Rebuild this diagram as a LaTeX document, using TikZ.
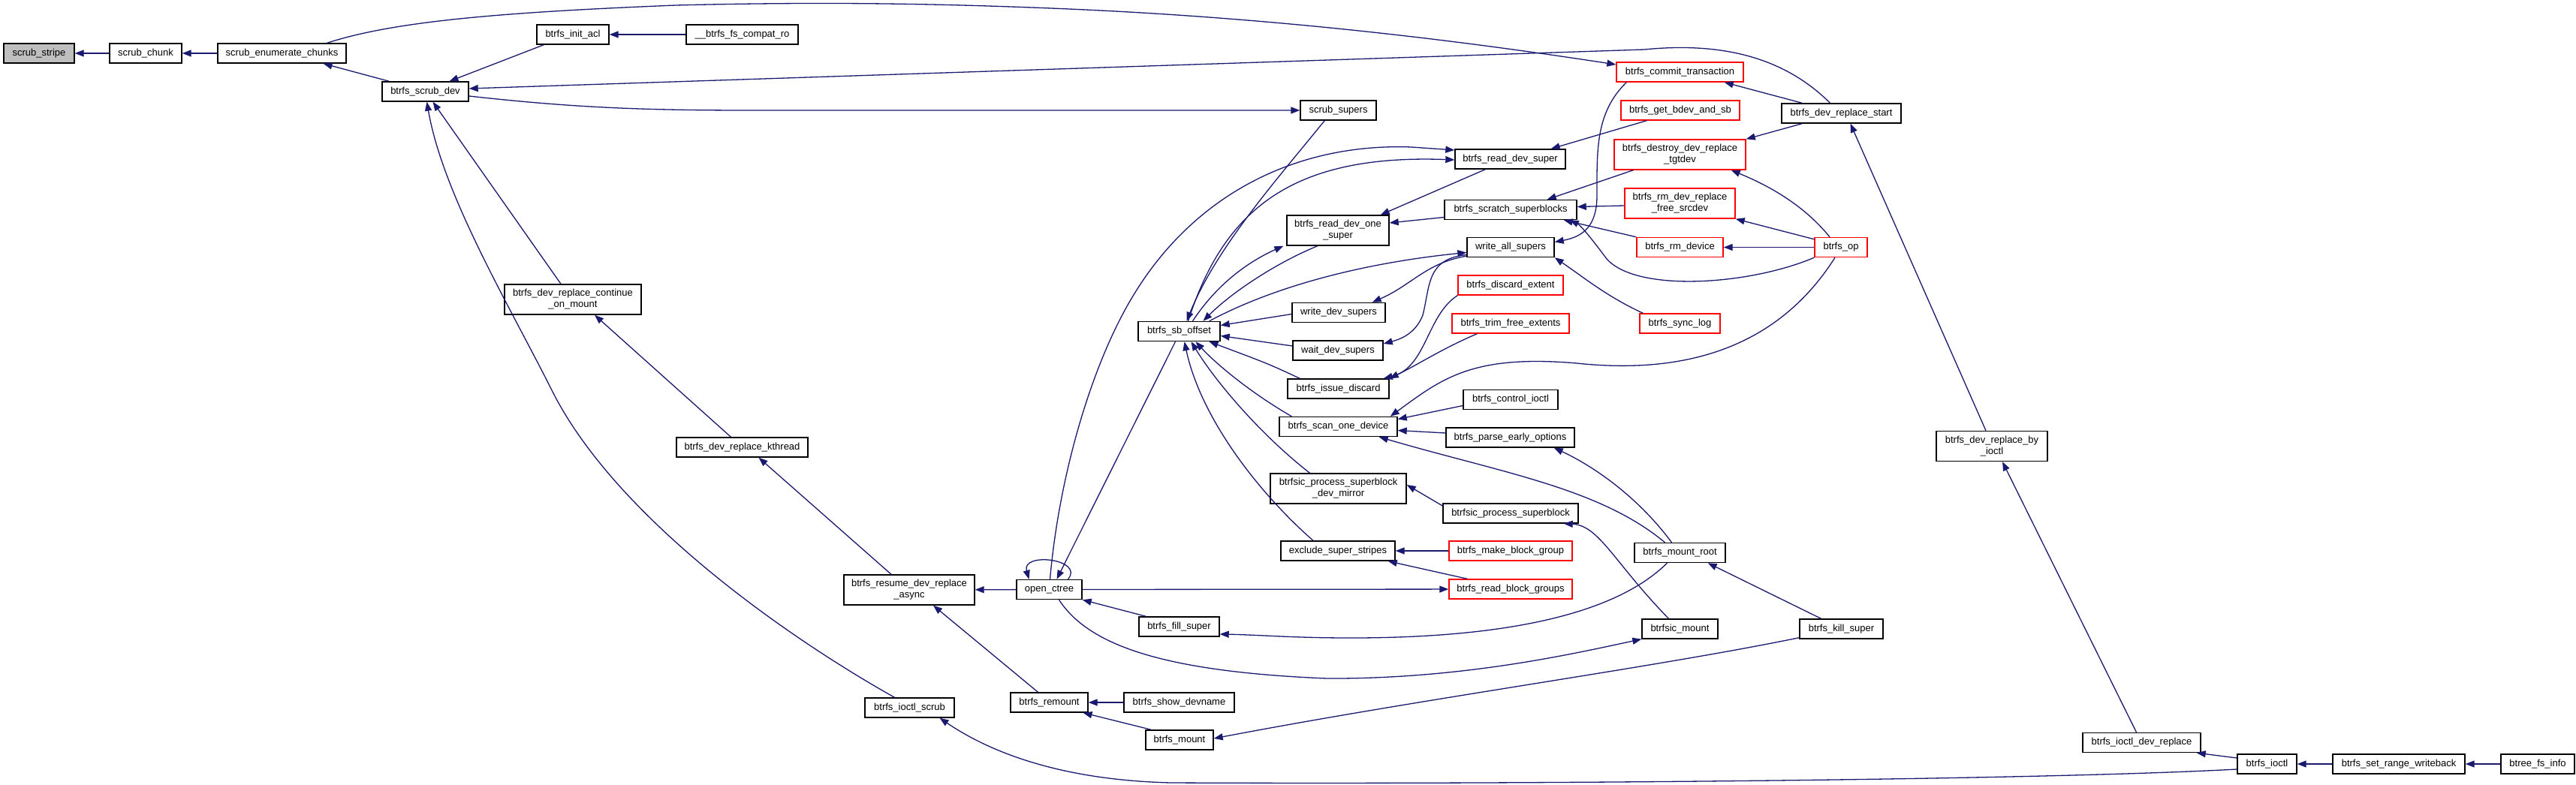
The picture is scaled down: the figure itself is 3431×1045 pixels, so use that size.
\documentclass[tikz,border=0pt]{standalone}
\usepackage{fontspec}
\setmainfont{Liberation Sans}
\usetikzlibrary{arrows.meta,calc}
\definecolor{eb}{HTML}{191970}
\definecolor{rb}{HTML}{FF0000}
\definecolor{gf}{HTML}{BFBFBF}
\begin{document}
\begin{tikzpicture}[x=1pt,y=-1pt,
  nd/.style={draw=black,line width=1.4pt,fill=white,inner sep=0pt,minimum height=26pt,
    font=\fontsize{13pt}{15pt}\selectfont,align=center},
  rd/.style={nd,draw=rb},
  two/.style={minimum height=40pt},
  cedge/.style={draw=eb,line width=1.3pt,-{Triangle[length=12pt,width=9pt]}}]
\useasboundingbox[fill=white] (0,0) rectangle (3431,1045);
% nodes
\node[nd,fill=gf,minimum width=94] (stripe) at (52,71) {scrub\_stripe};
\node[nd,minimum width=96] (chunk) at (194,71) {scrub\_chunk};
\node[nd,minimum width=171] (enumc) at (375.5,71) {scrub\_enumerate\_chunks};
\node[nd,minimum width=115] (scrubdev) at (566.5,122) {btrfs\_scrub\_dev};
\node[nd,minimum width=96] (initacl) at (763,46) {btrfs\_init\_acl};
\node[nd,minimum width=149] (compat) at (988.5,46) {\_\_btrfs\_fs\_compat\_ro};
\node[nd,two,minimum width=182] (contmount) at (763,399) {btrfs\_dev\_replace\_continue\\\_on\_mount};
\node[nd,minimum width=175] (kthread) at (988.5,596) {btrfs\_dev\_replace\_kthread};
\node[nd,two,minimum width=174] (resume) at (1211,786) {btrfs\_resume\_dev\_replace\\\_async};
\node[nd,minimum width=119] (ioctlscrub) at (1211.5,943) {btrfs\_ioctl\_scrub};
\node[nd,minimum width=87] (openctree) at (1397.5,785.5) {open\_ctree};
\node[nd,minimum width=103] (remount) at (1397.5,936) {btrfs\_remount};
\node[nd,minimum width=147] (showdev) at (1570.5,936) {btrfs\_show\_devname};
\node[nd,minimum width=90] (mount) at (1571,986) {btrfs\_mount};
\node[nd,minimum width=101] (scrubsupers) at (1782.5,147) {scrub\_supers};
\node[nd,minimum width=109] (sboffset) at (1570.5,441.5) {btrfs\_sb\_offset};
\node[nd,two,minimum width=136] (readone) at (1782,307) {btrfs\_read\_dev\_one\\\_super};
\node[nd,minimum width=124] (writedev) at (1783,416.5) {write\_dev\_supers};
\node[nd,minimum width=120] (waitdev) at (1782,467) {wait\_dev\_supers};
\node[nd,minimum width=135] (issue) at (1782.5,518) {btrfs\_issue\_discard};
\node[nd,minimum width=157] (scanone) at (1782.5,568.5) {btrfs\_scan\_one\_device};
\node[nd,two,minimum width=181] (devmirror) at (1782.5,651) {btrfsic\_process\_superblock\\\_dev\_mirror};
\node[nd,minimum width=152] (exclude) at (1782,734) {exclude\_super\_stripes};
\node[nd,minimum width=107] (fillsuper) at (1570.5,835) {btrfs\_fill\_super};
\node[nd,minimum width=147] (readsuper) at (2011.5,212) {btrfs\_read\_dev\_super};
\node[nd,minimum width=176] (scratch) at (2012,279.5) {btrfs\_scratch\_superblocks};
\node[nd,minimum width=116] (writeall) at (2012,329.5) {write\_all\_supers};
\node[rd,minimum width=140] (discard) at (2012,380) {btrfs\_discard\_extent};
\node[rd,minimum width=156] (trim) at (2012,431) {btrfs\_trim\_free\_extents};
\node[nd,minimum width=126] (controlioctl) at (2012,532.5) {btrfs\_control\_ioctl};
\node[nd,minimum width=171] (parseearly) at (2011.5,583) {btrfs\_parse\_early\_options};
\node[nd,minimum width=180] (processsb) at (2012,684) {btrfsic\_process\_superblock};
\node[rd,minimum width=164] (makebg) at (2012,734) {btrfs\_make\_block\_group};
\node[rd,minimum width=164] (readbg) at (2012,785) {btrfs\_read\_block\_groups};
\node[rd,minimum width=169] (commit) at (2237.5,96) {btrfs\_commit\_transaction};
\node[rd,minimum width=158] (getbdev) at (2238,147) {btrfs\_get\_bdev\_and\_sb};
\node[rd,two,minimum width=175] (destroy) at (2237.5,206) {btrfs\_destroy\_dev\_replace\\\_tgtdev};
\node[rd,two,minimum width=147] (freesrc) at (2237.5,271) {btrfs\_rm\_dev\_replace\\\_free\_srcdev};
\node[rd,minimum width=115] (rmdevice) at (2237.5,329.5) {btrfs\_rm\_device};
\node[rd,minimum width=107] (synclog) at (2237.5,431) {btrfs\_sync\_log};
\node[nd,minimum width=121] (mountroot) at (2237.5,736.5) {btrfs\_mount\_root};
\node[nd,minimum width=101] (btrfsicmount) at (2237.5,838) {btrfsic\_mount};
\node[nd,minimum width=159] (devreplstart) at (2452.5,151) {btrfs\_dev\_replace\_start};
\node[rd,minimum width=70] (btrfsop) at (2452,329.5) {btrfs\_op};
\node[nd,minimum width=111] (killsuper) at (2452.5,838) {btrfs\_kill\_super};
\node[nd,two,minimum width=148] (byioctl) at (2653,594.5) {btrfs\_dev\_replace\_by\\\_ioctl};
\node[nd,minimum width=157] (ioctldevrepl) at (2852.5,989.5) {btrfs\_ioctl\_dev\_replace};
\node[nd,minimum width=79] (ioctl) at (3019.5,1018) {btrfs\_ioctl};
\node[nd,minimum width=176] (setrange) at (3195,1018) {btrfs\_set\_range\_writeback};
\node[nd,minimum width=98] (btreefs) at (3380,1018) {btree\_fs\_info};
% edges
\draw[cedge] (chunk) -- (stripe);
\draw[cedge] (enumc) -- (chunk);
\draw[cedge] ($(scrubdev.north west)+(10,0)$) -- ($(enumc.south)+(55,0)$);
\draw[cedge] ($(enumc.north)+(60,0)$) .. controls (520,30) and (650,17) .. (900,7) .. controls (1100,2) and (1250,5) .. (1400,11) .. controls (1700,23) and (1950,55) .. ($(commit.west)+(0,-10)$);
\draw[cedge] ($(initacl.south west)+(10,0)$) -- ($(scrubdev.north)+(32,0)$);
\draw[cedge] (compat) -- (initacl);
\draw[cedge] ($(devreplstart.north)+(-15,0)$) .. controls (2380,80) and (2300,55) .. (2190,66) -- ($(scrubdev.east)+(0,-4)$);
\draw[cedge] ($(scrubdev.east)+(0,6)$) .. controls (760,143) and (850,147) .. (1000,147) -- (scrubsupers.west);
\draw[cedge] ($(contmount.north)+(-16,0)$) -- ($(scrubdev.south)+(10,0)$);
\draw[cedge] ($(ioctlscrub.north)+(-20,0)$) .. controls (1050,850) and (820,690) .. (735,520) .. controls (680,410) and (590,260) .. ($(scrubdev.south)+(2,0)$);
\draw[cedge] ($(kthread.north)+(-15,0)$) -- ($(contmount.south)+(29,0)$);
\draw[cedge] ($(resume.north)+(-24,0)$) -- ($(kthread.south)+(22,0)$);
\draw[cedge] (openctree) -- (resume);
\draw[cedge] ($(remount.north)+(-15,0)$) -- ($(resume.south)+(32,0)$);
\draw[cedge] ($(ioctl.west)+(0,7)$) .. controls (2700,1040) and (2000,1045) .. (1560,1043) .. controls (1430,1040) and (1330,1010) .. ($(ioctlscrub.south)+(40,0)$);
\draw[cedge] (showdev) -- (remount);
\draw[cedge] ($(mount.north west)+(8,0)$) -- ($(remount.south)+(45,0)$);
\draw[cedge] ($(killsuper.south west)+(0,-2)$) .. controls (2200,890) and (1900,930) .. ($(mount.east)+(0,-2)$);
\draw[cedge] ($(openctree.south)+(13,0)$) .. controls (1450,860) and (1550,895) .. (1767,904) .. controls (1950,905) and (2100,870) .. (btrfsicmount.south west);
\draw[cedge] ($(fillsuper.north west)+(10,0)$) -- (openctree.south east);
\draw[cedge] (openctree) -- (readbg);
\draw[cedge] (makebg) -- (exclude);
\draw[cedge] ($(readbg.north west)+(25,0)$) -- ($(exclude.south east)+(-10,0)$);
\draw[cedge] ($(exclude.north)+(-33,0)$) .. controls (1680,660) and (1600,560) .. ($(sboffset.south)+(7,0)$);
\draw[cedge] ($(devmirror.north)+(-38,0)$) .. controls (1680,580) and (1620,510) .. ($(sboffset.south)+(16,0)$);
\draw[cedge] ($(scanone.north west)+(17,0)$) .. controls (1660,520) and (1615,480) .. ($(sboffset.south)+(22,0)$);
\draw[cedge] ($(issue.north west)+(17,0)$) .. controls (1690,485) .. ($(sboffset.south)+(40,0)$);
\draw[cedge] ($(writedev.west)+(0,2)$) -- ($(sboffset.east)+(0,-8)$);
\draw[cedge] ($(waitdev.west)+(0,-6)$) -- ($(sboffset.east)+(0,6)$);
\draw[cedge] ($(scrubsupers.south west)+(33,0)$) .. controls (1700,240) and (1620,330) .. ($(sboffset.north)+(10,0)$);
\draw[cedge] ($(openctree.north)+(1,0)$) .. controls (1410,640) and (1450,500) .. (1500,410) .. controls (1580,265) and (1720,190) .. (1880,196) -- ($(readsuper.west)+(0,-12)$);
\draw[cedge] ($(sboffset.north)+(12,0)$) .. controls (1630,280) and (1720,205) .. ($(readsuper.west)+(0,1)$);
\draw[cedge] ($(sboffset.north)+(18,0)$) .. controls (1620,380) and (1660,350) .. ($(readone.south west)+(-4,0)$);
\draw[cedge] ($(readone.south)+(-27,0)$) .. controls (1700,350) and (1640,390) .. ($(sboffset.north)+(32,0)$);
\draw[cedge] ($(sboffset.north east)+(-15,0)$) .. controls (1700,380) and (1820,350) .. ($(writeall.west)+(0,7)$);
\draw[cedge] ($(writeall.south west)+(0,-2)$) .. controls (1900,350) and (1880,380) .. ($(writedev.north east)+(-18,0)$);
\draw[cedge] ($(writeall.west)+(0,10)$) .. controls (1900,345) and (1905,380) .. (1895,420) .. controls (1885,445) and (1865,452) .. ($(waitdev.east)+(0,-9)$);
\draw[cedge] (discard.south west) .. controls (1900,420) and (1900,490) .. ($(issue.north east)+(-8,0)$);
\draw[cedge] ($(trim.south west)+(34,0)$) .. controls (1920,465) and (1890,485) .. (issue.north east);
\draw[cedge] ($(readsuper.south west)+(41,0)$) -- ($(readone.north east)+(-12,0)$);
\draw[cedge] ($(scratch.west)+(0,10)$) -- ($(readone.east)+(0,-10)$);
\draw[cedge] ($(controlioctl.west)+(0,8)$) -- ($(scanone.east)+(0,-10)$);
\draw[cedge] ($(parseearly.west)+(0,-6)$) -- ($(scanone.east)+(0,5)$);
\draw[cedge] ($(btrfsop.south)+(-8,0)$) .. controls (2370,460) and (2250,500) .. (2100,484) .. controls (1960,472) and (1920,505) .. ($(scanone.north east)+(-10,0)$);
\draw[cedge] ($(mountroot.north)+(-20,0)$) .. controls (2130,650) and (2000,630) .. ($(scanone.south east)+(-25,0)$);
\draw[cedge] ($(mountroot.north)+(-11,0)$) .. controls (2180,660) and (2120,620) .. ($(parseearly.south east)+(-28,0)$);
\draw[cedge] ($(btrfsicmount.north)+(-15,0)$) .. controls (2150,750) and (2130,700) .. ($(processsb.south east)+(-20,0)$);
\draw[cedge] ($(mountroot.south)+(-17,0)$) .. controls (2150,820) and (2000,850) .. (1800,850) .. controls (1720,850) and (1680,846) .. ($(fillsuper.east)+(0,10)$);
\draw[cedge] ($(killsuper.north)+(-27,0)$) -- ($(mountroot.south east)+(-24,0)$);
\draw[cedge] ($(processsb.west)+(0,-10)$) -- ($(devmirror.east)+(0,-5)$);
\draw[cedge] ($(synclog.north west)+(5,0)$) .. controls (2140,395) and (2110,370) .. (writeall.south east);
\draw[cedge] ($(commit.south west)+(14,0)$) .. controls (2125,150) and (2127,200) .. (2127,260) .. controls (2127,300) and (2110,315) .. ($(writeall.east)+(0,-7)$);
\draw[cedge] ($(getbdev.south west)+(35,0)$) -- ($(readsuper.north east)+(-20,0)$);
\draw[cedge] ($(destroy.south west)+(26,0)$) -- ($(scratch.north east)+(-40,0)$);
\draw[cedge] ($(freesrc.west)+(0,3)$) -- ($(scratch.east)+(0,-4)$);
\draw[cedge] (rmdevice.north west) -- ($(scratch.south east)+(-18,0)$);
\draw[cedge] (btrfsop.south west) .. controls (2330,380) and (2180,390) .. (2140,345) .. controls (2120,318) and (2105,300) .. ($(scratch.south east)+(-10,0)$);
\draw[cedge] (btrfsop) -- (rmdevice);
\draw[cedge] ($(btrfsop.north west)+(0,3)$) -- (freesrc.south east);
\draw[cedge] ($(btrfsop.north)+(-15,0)$) .. controls (2400,270) and (2350,245) .. ($(destroy.south east)+(-20,0)$);
\draw[cedge] ($(devreplstart.north west)+(28,0)$) -- ($(commit.south east)+(-26,0)$);
\draw[cedge] ($(devreplstart.south west)+(28,0)$) -- (destroy.north east);
\draw[cedge] ($(byioctl.north)+(-8,0)$) -- ($(devreplstart.south)+(12,0)$);
\draw[cedge] ($(ioctldevrepl.north)+(-7,0)$) -- ($(byioctl.south)+(14,0)$);
\draw[cedge] ($(ioctl.west)+(0,-8)$) -- ($(ioctldevrepl.south east)+(-6,0)$);
\draw[cedge] (setrange) -- (ioctl);
\draw[cedge] (btreefs) -- (setrange);
\draw[cedge] ($(sboffset.south)+(-5,0)$) -- ($(openctree.north)+(10,0)$);
\draw[cedge] ($(openctree.north)+(25,0)$) .. controls (1445,745) and (1360,735) .. ($(openctree.north)+(-27,0)$);
\end{tikzpicture}
\end{document}
